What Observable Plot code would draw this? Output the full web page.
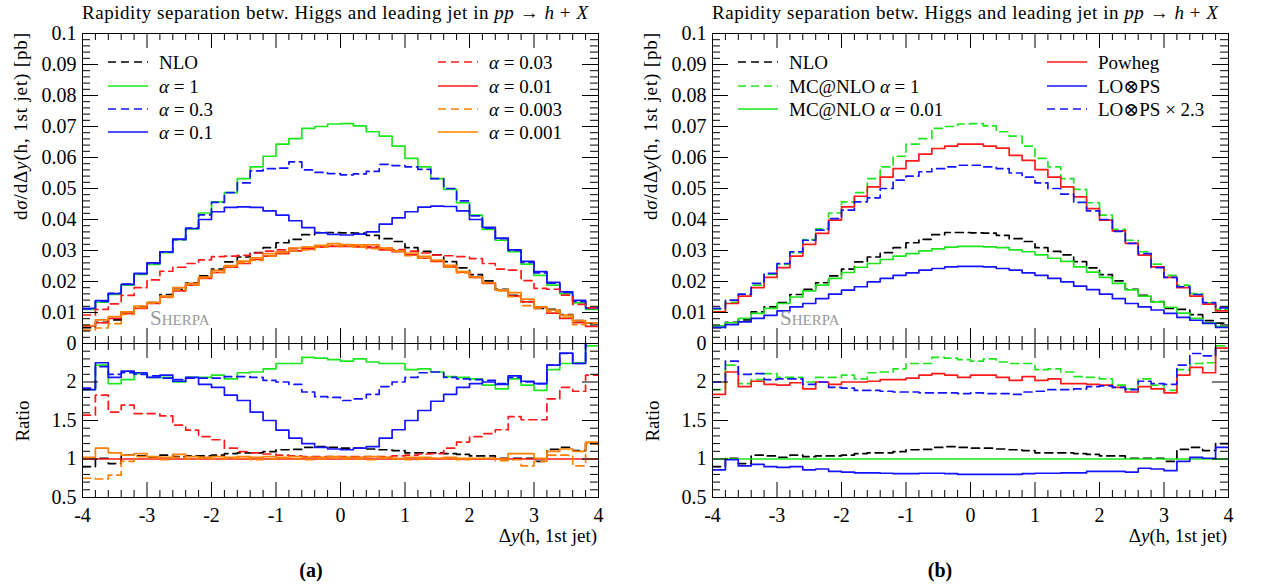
<!DOCTYPE html>
<html>
<head>
<meta charset="utf-8">
<script src="https://cdn.jsdelivr.net/npm/d3@7"></script>
<script src="https://cdn.jsdelivr.net/npm/@observablehq/plot@0.6"></script>
<style>
html,body{margin:0;padding:0;background:#fff;}
#root{position:relative;width:1269px;height:588px;overflow:hidden;background:#fff;}
#root > svg{position:absolute;overflow:visible;}
</style>
</head>
<body>
<div id="root"></div>
<script>
// ---------------- DATA (40 bins of width 0.2 from -4 to 4) ----------------
// Panel (a) main: dσ/dΔy [pb]
const nlo      = [0.0051,0.0068,0.0076,0.0102,0.0118,0.0132,0.0158,0.0175,0.0196,0.0218,0.0240,0.0263,0.0279,0.0293,0.0309,0.0325,0.0336,0.0351,0.0358,0.0358,0.0357,0.0356,0.0349,0.0338,0.0329,0.0309,0.0297,0.0286,0.0264,0.0244,0.0222,0.0202,0.0175,0.0155,0.0135,0.0113,0.0110,0.0093,0.0074,0.0066];
const alpha1   = [0.0110,0.0133,0.0158,0.0188,0.0223,0.0255,0.0293,0.0335,0.0370,0.0421,0.0457,0.0487,0.0532,0.0570,0.0604,0.0643,0.0661,0.0694,0.0700,0.0708,0.0709,0.0702,0.0683,0.0669,0.0637,0.0597,0.0570,0.0532,0.0497,0.0454,0.0414,0.0368,0.0333,0.0296,0.0256,0.0220,0.0188,0.0161,0.0131,0.0110];
const alpha0_3 = [0.0112,0.0136,0.0162,0.0192,0.0225,0.0258,0.0295,0.0335,0.0372,0.0415,0.0455,0.0487,0.0518,0.0557,0.0564,0.0566,0.0586,0.0560,0.0552,0.0548,0.0544,0.0547,0.0555,0.0578,0.0574,0.0570,0.0562,0.0532,0.0500,0.0460,0.0412,0.0372,0.0338,0.0300,0.0262,0.0228,0.0195,0.0165,0.0136,0.0113];
const alpha0_1 = [0.0113,0.0138,0.0161,0.0191,0.0226,0.0260,0.0296,0.0337,0.0371,0.0400,0.0425,0.0439,0.0441,0.0439,0.0428,0.0414,0.0396,0.0374,0.0357,0.0352,0.0350,0.0353,0.0360,0.0385,0.0405,0.0425,0.0440,0.0443,0.0442,0.0428,0.0400,0.0375,0.0340,0.0302,0.0265,0.0232,0.0197,0.0167,0.0139,0.0115];
const alpha0_03= [0.0092,0.0110,0.0128,0.0155,0.0180,0.0205,0.0233,0.0246,0.0258,0.0270,0.0280,0.0282,0.0284,0.0292,0.0298,0.0302,0.0306,0.0310,0.0314,0.0316,0.0316,0.0314,0.0312,0.0308,0.0303,0.0298,0.0292,0.0285,0.0283,0.0280,0.0274,0.0258,0.0240,0.0237,0.0203,0.0178,0.0175,0.0156,0.0126,0.0115];
const alpha0_01= [0.0057,0.0067,0.0081,0.0097,0.0113,0.0129,0.0150,0.0170,0.0188,0.0210,0.0229,0.0246,0.0258,0.0271,0.0282,0.0290,0.0299,0.0305,0.0311,0.0313,0.0313,0.0312,0.0309,0.0302,0.0296,0.0286,0.0275,0.0265,0.0247,0.0230,0.0213,0.0194,0.0173,0.0153,0.0134,0.0117,0.0098,0.0081,0.0067,0.0055];
const alpha0_003=[0.0043,0.0050,0.0064,0.0094,0.0116,0.0130,0.0149,0.0173,0.0188,0.0212,0.0229,0.0248,0.0261,0.0268,0.0282,0.0293,0.0299,0.0302,0.0311,0.0316,0.0313,0.0312,0.0306,0.0305,0.0296,0.0283,0.0275,0.0268,0.0247,0.0228,0.0213,0.0196,0.0170,0.0151,0.0122,0.0113,0.0103,0.0085,0.0061,0.0066];
const alpha0_001=[0.0058,0.0076,0.0087,0.0102,0.0121,0.0133,0.0153,0.0180,0.0194,0.0214,0.0236,0.0251,0.0266,0.0276,0.0290,0.0296,0.0308,0.0311,0.0317,0.0322,0.0319,0.0318,0.0318,0.0308,0.0299,0.0292,0.0281,0.0268,0.0252,0.0232,0.0215,0.0196,0.0173,0.0164,0.0143,0.0118,0.0108,0.0092,0.0074,0.0067];
// Panel (a) ratio (reference: alpha = 0.01)
const rNlo      = [0.90,1.01,0.94,1.05,1.04,1.02,1.05,1.03,1.04,1.04,1.05,1.07,1.08,1.08,1.095,1.12,1.125,1.15,1.16,1.15,1.14,1.14,1.13,1.12,1.11,1.08,1.08,1.08,1.07,1.06,1.04,1.04,1.01,1.01,1.01,0.97,1.125,1.15,1.11,1.20];
const rAlpha1   = [1.90,2.22,1.98,2.03,2.11,2.06,2.06,2.00,2.06,2.06,2.09,2.04,2.12,2.13,2.17,2.24,2.24,2.32,2.31,2.29,2.27,2.30,2.26,2.24,2.24,2.16,2.17,2.13,2.07,2.06,2.04,1.96,1.91,2.04,1.96,1.89,2.16,2.24,2.25,2.47];
const rAlpha0_3 = [1.92,2.20,2.10,2.12,2.10,2.08,2.05,2.03,2.05,2.05,2.05,2.07,2.07,2.06,2.02,2.00,1.97,1.87,1.81,1.80,1.76,1.78,1.84,1.94,2.00,2.06,2.12,2.13,2.06,2.04,2.03,2.02,1.98,2.06,2.00,1.98,2.22,2.37,2.24,2.60];
const rAlpha0_1 = [1.90,2.25,2.06,2.14,2.12,2.06,2.09,2.01,2.06,1.97,1.93,1.83,1.76,1.61,1.50,1.375,1.27,1.20,1.15,1.13,1.12,1.14,1.16,1.27,1.38,1.50,1.63,1.75,1.84,1.93,1.98,2.00,1.97,2.08,2.01,1.98,2.22,2.375,2.24,2.60];
const rAlpha0_03= [1.57,1.83,1.61,1.70,1.59,1.59,1.56,1.44,1.375,1.29,1.25,1.14,1.095,1.08,1.065,1.05,1.04,1.03,1.03,1.03,1.03,1.03,1.03,1.03,1.04,1.05,1.065,1.07,1.14,1.22,1.29,1.33,1.38,1.55,1.51,1.51,1.78,1.93,1.88,2.09];
const rAlpha0_003=[0.75,0.74,0.79,0.97,1.03,1.01,0.99,1.02,1.00,1.01,1.00,1.01,1.01,0.99,1.00,1.01,1.00,0.99,1.00,1.01,1.00,1.00,0.99,1.01,1.00,0.99,1.00,1.01,1.00,0.99,1.00,1.01,0.98,0.99,0.91,0.97,1.05,1.05,0.91,1.20];
const rAlpha0_001=[1.02,1.14,1.08,1.05,1.07,1.03,1.02,1.06,1.03,1.02,1.03,1.02,1.03,1.02,1.03,1.02,1.03,1.02,1.02,1.03,1.02,1.02,1.03,1.02,1.01,1.02,1.02,1.01,1.02,1.01,1.01,1.01,1.00,1.07,1.07,1.01,1.10,1.13,1.10,1.22];
// Panel (b) main
const powheg = [0.0102,0.0129,0.0153,0.0180,0.0213,0.0245,0.0282,0.0320,0.0355,0.0398,0.0441,0.0475,0.0505,0.0537,0.0564,0.0589,0.0611,0.0629,0.0637,0.0643,0.0643,0.0637,0.0630,0.0607,0.0591,0.0561,0.0537,0.0505,0.0473,0.0435,0.0398,0.0363,0.0323,0.0285,0.0247,0.0213,0.0180,0.0153,0.0127,0.0105];
const lops   = [0.0052,0.0061,0.0070,0.0081,0.0091,0.0105,0.0118,0.0129,0.0145,0.0159,0.0172,0.0183,0.0199,0.0210,0.0220,0.0228,0.0237,0.0242,0.0247,0.0249,0.0249,0.0247,0.0242,0.0237,0.0228,0.0220,0.0210,0.0199,0.0185,0.0174,0.0159,0.0145,0.0129,0.0118,0.0108,0.0097,0.0084,0.0075,0.0065,0.0052];
const lops23 = [0.0113,0.0140,0.0159,0.0194,0.0226,0.0258,0.0296,0.0333,0.0366,0.0403,0.0430,0.0457,0.0470,0.0500,0.0527,0.0540,0.0554,0.0564,0.0570,0.0575,0.0575,0.0570,0.0564,0.0550,0.0537,0.0518,0.0500,0.0482,0.0455,0.0428,0.0400,0.0362,0.0323,0.0290,0.0245,0.0213,0.0183,0.0158,0.0132,0.0115];
// Panel (b) ratio (reference: MC@NLO alpha = 0.01)
const rPowheg = [1.84,2.13,1.94,2.01,1.97,1.96,1.99,1.91,2.00,1.97,2.00,2.00,2.01,2.03,2.03,2.05,2.09,2.11,2.09,2.06,2.09,2.09,2.06,2.02,2.07,2.02,2.04,1.98,1.98,1.97,1.96,1.93,1.87,1.94,1.91,1.86,2.09,2.19,2.12,2.44];
const rLops   = [0.86,0.99,0.91,0.93,0.90,0.89,0.90,0.86,0.87,0.84,0.83,0.82,0.82,0.815,0.81,0.81,0.815,0.815,0.81,0.80,0.80,0.80,0.80,0.80,0.81,0.815,0.815,0.82,0.82,0.84,0.84,0.84,0.83,0.88,0.87,0.85,0.97,1.02,1.01,1.15];
const rLops23 = [2.00,2.27,2.10,2.11,2.03,2.04,2.04,1.97,2.00,1.93,1.92,1.89,1.89,1.88,1.87,1.87,1.86,1.86,1.86,1.85,1.86,1.85,1.85,1.84,1.87,1.88,1.90,1.90,1.91,1.94,1.95,1.93,1.90,2.01,1.98,1.97,2.22,2.37,2.34,2.60];
// Axis ticks
const xMajor = [-4,-3,-2,-1,0,1,2,3,4];
const yMainTicks = [0,0.01,0.02,0.03,0.04,0.05,0.06,0.07,0.08,0.09,0.1];
const yRatioTicks = [0.5,1,1.5,2];
const refRatio = [1];

// ---------------- DRAWING ----------------
const root = document.getElementById("root");
const FONT = "'Liberation Serif', 'DejaVu Serif', serif";
const COL = {black:"#000000", green:"#1ee61e", blue:"#1414ff", red:"#ff1a1a", orange:"#ff8000"};
const DASH = "8,5";
const W = 620, ML = 82, MR = 22, FW = W - ML - MR;
const binEdges = d3.range(41).map(i => +(-4 + 0.2 * i).toFixed(1));
const xMinor = binEdges.filter(v => !Number.isInteger(v));
const yMainMinor = d3.range(51).map(i => +(i * 0.002).toFixed(3)).filter((v, i) => i % 5 !== 0);
const yRatioMinor = d3.range(5, 26).filter(i => i % 5 !== 0).map(i => i / 10);

function stepData(vals) { return binEdges.map((x, i) => ({x, y: vals[Math.min(i, vals.length - 1)]})); }
function lineMark(vals, color, dash) {
  return Plot.line(stepData(vals), {x: "x", y: "y", curve: "step-after", stroke: color, strokeWidth: 1.7,
    strokeDasharray: dash ? DASH : undefined, clip: true});
}
function tickMarks(fh, yMajor, yMinor) {
  const s = {stroke: "#000", strokeWidth: 1};
  return [
    Plot.tickY(yMajor, {y: d => d, insetRight: FW - 16, ...s}),
    Plot.tickY(yMajor, {y: d => d, insetLeft: FW - 16, ...s}),
    Plot.tickY(yMinor, {y: d => d, insetRight: FW - 8, ...s}),
    Plot.tickY(yMinor, {y: d => d, insetLeft: FW - 8, ...s}),
    Plot.tickX(xMajor, {x: d => d, insetBottom: fh - 15, ...s}),
    Plot.tickX(xMajor, {x: d => d, insetTop: fh - 15, ...s}),
    Plot.tickX(xMinor, {x: d => d, insetBottom: fh - 7, ...s}),
    Plot.tickX(xMinor, {x: d => d, insetTop: fh - 7, ...s})
  ];
}
const plotStyle = {fontFamily: FONT, fontSize: "20px", background: "transparent", overflow: "visible", color: "#000"};

function mainPlot(series, left) {
  const H = 350, MT = 33, MB = 7, FH = H - MT - MB;
  const svg = Plot.plot({
    width: W, height: H, marginLeft: ML, marginRight: MR, marginTop: MT, marginBottom: MB,
    x: {domain: [-4, 4], axis: null},
    y: {domain: [0, 0.1]},
    style: plotStyle,
    marks: [
      ...series.map(s => lineMark(s.vals, s.color, s.dash)),
      Plot.frame({stroke: "#000", strokeWidth: 1}),
      ...tickMarks(FH, yMainTicks, yMainMinor),
      Plot.axisY(yMainTicks, {anchor: "left", tickSize: 0, tickPadding: 6, label: null, tickFormat: d => String(d)})
    ]
  });
  svg.style.left = left + "px"; svg.style.top = "0px";
  root.appendChild(svg);
}
function ratioPlot(series, refColor, left) {
  const H = 200, MT = 13, MB = 33, FH = H - MT - MB;
  const svg = Plot.plot({
    width: W, height: H, marginLeft: ML, marginRight: MR, marginTop: MT, marginBottom: MB,
    x: {domain: [-4, 4]},
    y: {domain: [0.5, 2.5]},
    style: plotStyle,
    marks: [
      ...series.map(s => s.ref ? Plot.ruleY(refRatio, {y: d => d, stroke: refColor, strokeWidth: 1.7})
                               : lineMark(s.vals, s.color, s.dash)),
      Plot.frame({stroke: "#000", strokeWidth: 1}),
      ...tickMarks(FH, yRatioTicks.concat([2.5]), yRatioMinor),
      Plot.axisY(yRatioTicks, {anchor: "left", tickSize: 0, tickPadding: 6, label: null, tickFormat: d => String(d)}),
      Plot.axisX(xMajor, {anchor: "bottom", tickSize: 0, tickPadding: 10, label: null, tickFormat: d => String(d)})
    ]
  });
  svg.style.left = left + "px"; svg.style.top = "330px";
  root.appendChild(svg);
}

const seriesA = [
  {label: "NLO", vals: nlo, r: rNlo, color: COL.black, dash: true},
  {label: "α = 1", vals: alpha1, r: rAlpha1, color: COL.green, dash: false},
  {label: "α = 0.3", vals: alpha0_3, r: rAlpha0_3, color: COL.blue, dash: true},
  {label: "α = 0.1", vals: alpha0_1, r: rAlpha0_1, color: COL.blue, dash: false},
  {label: "α = 0.03", vals: alpha0_03, r: rAlpha0_03, color: COL.red, dash: true},
  {label: "α = 0.01", vals: alpha0_01, r: null, color: COL.red, dash: false, ref: true},
  {label: "α = 0.003", vals: alpha0_003, r: rAlpha0_003, color: COL.orange, dash: true},
  {label: "α = 0.001", vals: alpha0_001, r: rAlpha0_001, color: COL.orange, dash: false}
];
const seriesB = [
  {label: "NLO", vals: nlo, r: rNlo, color: COL.black, dash: true},
  {label: "MC@NLO α = 1", vals: alpha1, r: rAlpha1, color: COL.green, dash: true},
  {label: "MC@NLO α = 0.01", vals: alpha0_01, r: null, color: COL.green, dash: false, ref: true},
  {label: "Powheg", vals: powheg, r: rPowheg, color: COL.red, dash: false},
  {label: "LO⊗PS", vals: lops, r: rLops, color: COL.blue, dash: false},
  {label: "LO⊗PS × 2.3", vals: lops23, r: rLops23, color: COL.blue, dash: true}
];

mainPlot(seriesA, 0);
ratioPlot(seriesA.map(s => ({vals: s.r, color: s.color, dash: s.dash, ref: s.ref})), COL.red, 0);
mainPlot(seriesB, 630);
ratioPlot(seriesB.map(s => ({vals: s.r, color: s.color, dash: s.dash, ref: s.ref})), COL.green, 630);

// ---------------- TEXT OVERLAY ----------------
const ov = d3.select(root).append("svg").attr("width", 1269).attr("height", 588)
  .style("left", "0px").style("top", "0px").style("pointer-events", "none")
  .style("font-family", FONT).style("font-size", "19px");

function richText(g, parts) {
  parts.forEach(p => {
    const t = g.append("tspan").text(p[0]);
    if (p[1] === "i") t.attr("font-style", "italic");
  });
}
function legendRow(x0, y, item) {
  ov.append("line").attr("x1", x0).attr("x2", x0 + 40).attr("y1", y).attr("y2", y)
    .attr("stroke", item.color).attr("stroke-width", 1.7).attr("stroke-dasharray", item.dash ? DASH : null);
  const t = ov.append("text").attr("x", x0 + 51).attr("y", y).attr("dy", "0.35em").style("font-size", "19px");
  const m = item.label.match(/^(.*?)α(.*)$/);
  if (m) richText(t, [[m[1]], ["α", "i"], [m[2]]]); else t.text(item.label);
}

[0, 630].forEach((off, k) => {
  const title = ov.append("text").attr("x", off + 82).attr("y", 18.5).style("font-size", "19px")
    .attr("textLength", 506).attr("lengthAdjust", "spacing");
  richText(title, [["Rapidity separation betw. Higgs and leading jet in "], ["pp", "i"], [" → "], ["h", "i"], [" + "], ["X", "i"]]);
  const yl = ov.append("text").attr("transform", `translate(${off + 27},33) rotate(-90)`).attr("text-anchor", "end")
    .style("font-size", "19px").attr("textLength", 187).attr("lengthAdjust", "spacing");
  richText(yl, [["d"], ["σ", "i"], ["/dΔ"], ["y", "i"], ["(h, 1st jet) [pb]"]]);
  ov.append("text").attr("transform", `translate(${off + 29},421) rotate(-90)`).attr("text-anchor", "middle")
    .style("font-size", "19px").text("Ratio");
  const xl = ov.append("text").attr("x", off + 597).attr("y", 542).attr("text-anchor", "end").style("font-size", "19px");
  richText(xl, [["Δ"], ["y", "i"], ["(h, 1st jet)"]]);
  ov.append("text").attr("x", off + 150).attr("y", 325).attr("fill", "#9a9a9a")
    .style("font-variant", "small-caps").style("font-size", "21px").text("Sherpa");
  ov.append("text").attr("x", off + (k === 0 ? 311 : 310)).attr("y", 577).attr("text-anchor", "middle")
    .style("font-weight", "bold").style("font-size", "20px").text(k === 0 ? "(a)" : "(b)");
});

const rowsY = [62, 86, 109, 132];
seriesA.slice(0, 4).forEach((s, i) => legendRow(108, rowsY[i], s));
seriesA.slice(4).forEach((s, i) => legendRow(438, rowsY[i], s));
seriesB.slice(0, 3).forEach((s, i) => legendRow(738, rowsY[i], s));
seriesB.slice(3).forEach((s, i) => legendRow(1047, rowsY[i], s));
</script>
</body>
</html>
